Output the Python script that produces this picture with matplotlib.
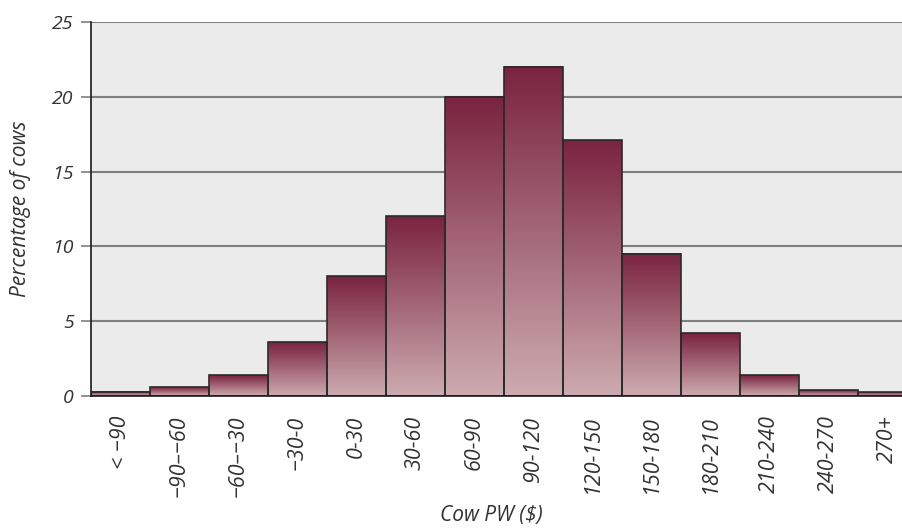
import numpy as np
import matplotlib
matplotlib.use("Agg")
import matplotlib.pyplot as plt
from matplotlib.colors import LinearSegmentedColormap

categories = ["< \u221290", "\u221290\u2013\u221260", "\u221260\u2013\u221230", "\u221230-0",
              "0-30", "30-60", "60-90", "90-120", "120-150", "150-180",
              "180-210", "210-240", "240-270", "270+"]
values = [0.3, 0.6, 1.4, 3.6, 8.0, 12.0, 20.0, 22.0, 17.1, 9.5, 4.2, 1.4, 0.4, 0.25]
yticks = [0, 5, 10, 15, 20, 25]

plt.rcParams['font.family'] = ['Open Sans', 'DejaVu Sans']

W, H = 903, 529
fig = plt.figure(figsize=(W / 100, H / 100), dpi=100)
left, right, top, bottom = 91, 903, 22, 396
ax = fig.add_axes([left / W, (H - bottom) / H, (right - left) / W, (bottom - top) / H])
ax.set_facecolor('#ebebeb')

x = np.arange(len(values))

cmap = LinearSegmentedColormap.from_list('g', ['#cdabb0', '#7a2340'])
grad = np.linspace(0, 1, 256).reshape(-1, 1)

for gy in yticks[1:]:
    ax.axhline(gy, color='#7f7f7f', lw=1.5, zorder=1)

bars = ax.bar(x + 0.5, values, width=1.0, facecolor='none', edgecolor='#2a2a2a', lw=1.2, zorder=4)
for b in bars:
    x0 = b.get_x()
    h = b.get_height()
    ax.imshow(grad, extent=(x0, x0 + 1, 0, h), origin='lower', aspect='auto',
              cmap=cmap, zorder=3, interpolation='bilinear')

ax.set_xlim(0, (right - left) / 59.0)
ax.set_ylim(0, 25)

for s in ['top', 'right']:
    ax.spines[s].set_visible(False)
for s in ['left', 'bottom']:
    ax.spines[s].set_color('#1a1a1a')
    ax.spines[s].set_linewidth(1.2)
    ax.spines[s].set_zorder(5)

ax.set_yticks(yticks)
ax.set_yticklabels([str(v) for v in yticks], fontsize=14, style='italic', color='#333333')
ax.tick_params(axis='y', length=7.5, width=1.2, color='#7f7f7f', pad=5)

ax.set_xticks(x + 0.5)
ax.set_xticklabels(categories, rotation=90, fontsize=15.5, style='italic', color='#333333',
                   ha='center', va='top')
ax.tick_params(axis='x', length=0, pad=14)

ax.set_ylabel('Percentage of cows', fontsize=15, style='italic', color='#333333')
ax.yaxis.set_label_coords(-(91 - 21) / (right - left), 0.5)
ax.set_xlabel('Cow PW ($)', fontsize=15, style='italic', color='#333333')
ax.xaxis.set_label_coords((491 - left) / (right - left), -(515 - bottom) / (bottom - top))
ax.xaxis.label.set_va('center')
ax.yaxis.label.set_va('center')

fig.savefig('out.png', dpi=100)
